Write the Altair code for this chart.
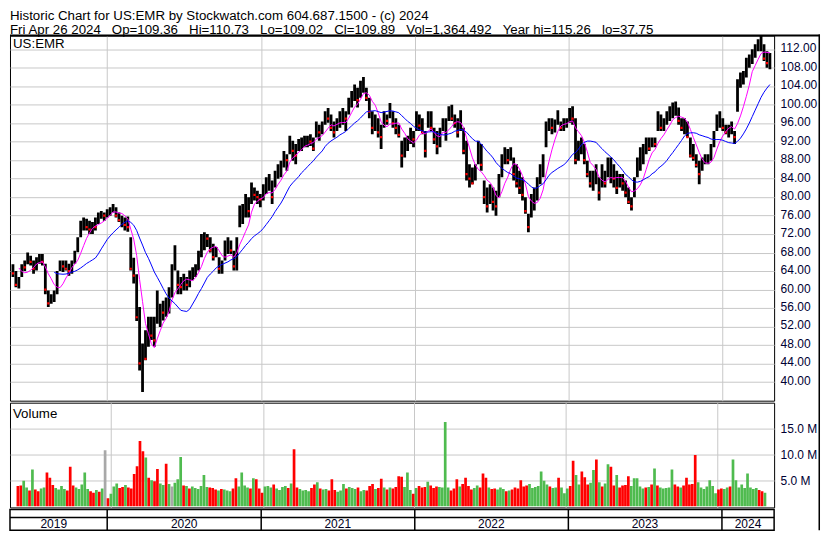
import altair as alt
import pandas as pd
import numpy as np

# ---------------- data (weekly bars) ----------------
FIRST_WEEK = "2019-05-01"  # Wednesday of the first weekly bar

HI = [71.5, 70.0, 68.4, 65.5, 64.0, 62.7, 65.5, 66.3, 68.0, 67.3,
      66.3, 67.0, 67.7, 67.7, 65.6, 59.8, 59.0, 59.8, 64.0, 66.3,
      66.3, 66.3, 65.6, 66.3, 68.4, 71.3, 74.9, 75.6, 75.3, 74.9,
      74.6, 75.6, 76.7, 77.0, 76.7, 77.4, 77.8, 78.5, 77.8, 76.7,
      76.0, 75.6, 75.8, 71.3, 66.9, 63.3, 56.2, 48.3, 51.2, 54.1,
      54.1, 54.1, 59.8, 56.9, 57.6, 58.3, 60.5, 65.5, 69.6, 64.1,
      62.7, 63.4, 62.7, 64.1, 64.8, 65.5, 68.4, 72.0, 72.4, 72.0,
      71.3, 69.9, 69.2, 67.0, 66.3, 70.6, 71.3, 70.6, 68.4, 71.3,
      78.2, 78.5, 80.7, 80.0, 83.2, 82.1, 81.4, 80.7, 82.8, 84.3,
      85.0, 83.6, 85.7, 87.1, 87.9, 90.0, 89.3, 93.3, 92.2, 91.5,
      92.6, 92.9, 93.3, 93.3, 93.6, 92.9, 96.4, 95.7, 96.4, 98.6,
      99.3, 97.9, 96.4, 97.1, 98.6, 99.3, 98.6, 101.5, 103.0, 104.4,
      103.7, 105.2, 106.0, 103.7, 101.5, 98.6, 97.9, 97.1, 95.7, 98.6,
      97.9, 100.4, 98.6, 97.1, 95.7, 92.2, 92.9, 93.3, 95.0, 94.3,
      98.6, 97.9, 97.1, 94.3, 98.6, 98.6, 95.0, 94.3, 95.0, 97.1,
      97.1, 99.7, 100.0, 97.9, 97.1, 98.8, 95.0, 92.2, 87.1, 86.4,
      87.1, 92.2, 91.5, 83.6, 82.1, 82.8, 82.1, 81.4, 85.0, 89.3,
      90.8, 90.4, 90.8, 88.6, 87.1, 85.7, 84.3, 80.0, 76.4, 80.7,
      82.1, 84.3, 87.1, 89.3, 96.4, 97.1, 97.1, 96.8, 98.8, 96.4,
      97.1, 97.1, 99.3, 99.7, 97.1, 92.2, 92.9, 91.5, 87.9, 85.7,
      85.7, 87.1, 84.3, 87.1, 85.7, 88.6, 88.6, 87.1, 85.7, 85.0,
      85.0, 83.6, 82.1, 80.0, 84.3, 88.6, 90.8, 91.5, 92.9, 92.9,
      92.9, 92.9, 98.6, 97.9, 97.1, 98.6, 99.7, 100.5, 100.7, 99.4,
      97.1, 97.1, 96.4, 92.9, 91.5, 89.3, 87.9, 88.6, 89.3, 89.3,
      91.5, 94.3, 97.9, 98.6, 97.1, 95.7, 95.7, 96.4, 94.3, 105.5,
      107.0, 107.3, 110.2, 110.9, 112.0, 113.1, 114.2, 115.2, 113.1, 111.6,
      111.2]

LO = [69.2, 66.0, 64.8, 62.7, 60.5, 60.2, 62.7, 64.0, 65.5, 65.2,
      63.4, 64.1, 65.6, 65.2, 59.0, 56.2, 56.9, 57.3, 59.0, 64.0,
      63.8, 64.1, 63.0, 63.4, 65.6, 68.1, 71.3, 72.8, 72.8, 72.0,
      72.0, 72.8, 74.2, 75.3, 74.9, 75.6, 76.0, 76.7, 75.6, 74.6,
      73.5, 72.8, 72.5, 64.1, 61.3, 53.2, 42.5, 37.8, 44.7, 47.6,
      49.1, 47.6, 52.6, 51.9, 53.3, 54.1, 54.8, 58.3, 64.1, 59.0,
      59.0, 59.8, 59.8, 60.5, 62.0, 62.7, 64.1, 67.0, 68.5, 69.2,
      68.0, 66.3, 67.0, 63.4, 63.4, 66.3, 67.7, 67.7, 64.1, 64.1,
      73.5, 74.2, 75.6, 75.6, 78.5, 79.3, 78.5, 77.8, 79.3, 80.7,
      81.4, 78.5, 82.1, 84.0, 84.3, 86.4, 85.7, 89.3, 87.9, 87.1,
      90.0, 90.0, 90.8, 90.8, 91.1, 90.0, 92.9, 92.2, 93.6, 95.7,
      96.1, 94.3, 92.9, 94.3, 95.0, 95.7, 94.3, 97.9, 99.4, 100.8,
      99.4, 101.5, 102.6, 100.8, 97.1, 93.6, 94.3, 92.9, 90.4, 95.0,
      95.7, 97.1, 95.0, 93.6, 92.9, 86.4, 88.6, 90.0, 91.5, 90.8,
      94.3, 94.3, 93.6, 88.6, 95.0, 94.3, 91.5, 89.3, 90.8, 94.3,
      92.2, 96.5, 96.5, 95.0, 92.9, 94.3, 89.3, 83.6, 82.1, 82.8,
      83.6, 87.1, 85.7, 78.5, 76.7, 78.5, 77.1, 76.0, 80.0, 84.3,
      87.1, 87.1, 87.9, 83.6, 82.1, 80.7, 79.3, 76.4, 72.4, 75.6,
      77.1, 79.3, 82.8, 84.3, 90.8, 94.3, 93.6, 94.0, 95.7, 94.3,
      94.3, 95.0, 96.1, 95.7, 87.1, 87.9, 89.3, 87.1, 84.3, 82.1,
      81.4, 82.8, 79.3, 82.1, 82.1, 84.3, 83.0, 82.1, 80.7, 82.1,
      81.4, 80.0, 78.5, 77.1, 80.0, 84.3, 85.7, 87.1, 89.3, 90.0,
      90.8, 90.8, 94.3, 94.3, 94.3, 95.7, 96.5, 97.1, 97.6, 95.7,
      94.3, 93.6, 92.9, 88.6, 87.9, 86.4, 82.8, 85.7, 87.1, 87.1,
      87.9, 90.8, 94.3, 95.0, 94.3, 93.6, 92.9, 93.6, 91.5, 98.5,
      103.7, 104.4, 105.9, 108.0, 108.8, 110.2, 111.6, 111.6, 109.5, 108.0,
      107.7]

CL = [69.5, 66.5, 66.0, 63.5, 61.0, 61.5, 65.0, 64.8, 66.8, 66.0,
      64.5, 66.0, 67.0, 66.0, 60.0, 57.0, 58.0, 58.5, 63.5, 65.5,
      65.0, 64.5, 64.0, 66.0, 68.0, 70.5, 74.0, 74.5, 73.5, 73.0,
      74.0, 73.5, 76.0, 76.5, 76.0, 77.0, 77.3, 78.0, 76.0, 75.0,
      75.5, 74.0, 73.5, 64.5, 63.0, 54.0, 44.0, 45.5, 45.0, 51.0,
      50.0, 49.0, 55.5, 56.0, 55.0, 57.0, 59.0, 64.0, 65.0, 61.0,
      60.5, 62.0, 61.0, 63.0, 64.0, 65.0, 67.0, 70.0, 71.5, 71.0,
      68.5, 67.0, 68.0, 64.5, 65.0, 69.0, 70.0, 68.5, 65.0, 70.0,
      76.0, 77.0, 79.0, 77.0, 81.5, 80.5, 80.0, 79.5, 81.0, 82.0,
      83.0, 80.0, 84.5, 86.0, 86.5, 89.0, 88.0, 91.5, 90.0, 89.0,
      91.0, 92.0, 92.5, 93.0, 92.0, 90.5, 95.5, 94.0, 95.0, 97.5,
      97.0, 95.0, 94.0, 96.0, 97.0, 98.0, 97.0, 100.5, 101.5, 103.0,
      101.0, 104.0, 104.5, 101.5, 98.5, 95.0, 96.0, 94.0, 93.0, 97.0,
      96.5, 98.5, 96.0, 95.0, 93.5, 89.0, 91.0, 91.5, 93.0, 92.5,
      97.0, 95.5, 94.0, 90.0, 97.0, 95.0, 92.5, 91.0, 93.0, 96.0,
      96.5, 98.5, 97.0, 96.0, 94.0, 95.0, 90.0, 85.0, 84.0, 83.0,
      85.0, 89.0, 87.0, 80.0, 78.0, 80.0, 79.0, 78.0, 84.0, 88.0,
      89.0, 88.0, 89.5, 85.0, 83.0, 82.0, 80.5, 77.0, 73.5, 79.0,
      80.0, 83.0, 86.0, 88.0, 94.0, 95.5, 95.0, 96.0, 97.0, 95.0,
      96.0, 96.5, 97.5, 97.0, 88.0, 90.0, 91.0, 88.0, 85.0, 83.0,
      84.0, 85.0, 81.0, 84.0, 83.0, 86.0, 86.5, 84.0, 82.0, 84.0,
      83.0, 81.0, 79.0, 78.0, 83.0, 87.0, 88.0, 89.0, 91.0, 90.5,
      92.0, 91.5, 96.0, 95.0, 96.0, 97.0, 98.0, 98.5, 99.0, 96.5,
      95.0, 95.5, 93.0, 89.0, 88.5, 87.0, 85.0, 87.0, 88.0, 88.5,
      90.0, 93.0, 96.0, 97.0, 95.0, 94.0, 94.5, 95.0, 93.0, 104.0,
      105.0, 106.0, 108.0, 109.5, 110.5, 112.0, 113.0, 113.5, 110.0, 109.0,
      109.89]

VOL_M = [5.7, 3.8, 3.2, 3.9, 4.0, 4.9, 3.6, 3.0, 7.1, 3.2,
         2.9, 3.4, 3.6, 6.5, 5.5, 4.1, 3.5, 3.2, 3.9, 3.3,
         3.0, 7.6, 4.0, 3.6, 3.3, 4.2, 6.5, 3.3, 2.9, 2.6,
         3.1, 2.8, 3.4, 10.8, 1.5, 2.4, 3.8, 4.4, 3.5, 3.7,
         4.1, 3.6, 3.4, 6.2, 7.7, 12.6, 10.6, 9.4, 5.5, 5.0,
         4.8, 7.2, 4.4, 4.1, 8.2, 4.3, 3.8, 4.5, 5.2, 9.5,
         4.0, 3.9, 3.4, 3.8, 3.5, 3.3, 3.9, 6.0, 3.7, 3.6,
         3.5, 3.2, 3.0, 3.3, 3.2, 3.0, 2.9, 3.4, 5.4, 3.8,
         6.5, 4.0, 3.6, 3.4, 5.4, 5.2, 3.4, 2.6, 3.8, 3.9,
         3.6, 4.2, 3.4, 3.1, 3.7, 3.9, 3.5, 4.4, 11.0, 3.6,
         3.3, 3.0, 3.1, 2.9, 3.5, 4.2, 4.6, 3.4, 3.2, 3.3,
         3.0, 5.2, 3.1, 2.8, 3.0, 4.3, 3.4, 3.7, 3.5, 3.3,
         3.6, 2.9, 3.1, 3.0, 3.9, 4.3, 3.3, 3.5, 5.3, 3.6,
         3.2, 3.6, 3.4, 3.7, 5.8, 5.7, 3.7, 6.5, 3.1, 2.4,
         3.5, 3.9, 3.6, 3.7, 4.7, 4.0, 3.5, 3.8, 3.7, 3.6,
         16.3, 3.6, 3.0, 3.4, 5.2, 3.8, 4.3, 5.5, 3.9, 3.2,
         3.5, 4.0, 3.6, 6.3, 5.5, 3.6, 3.3, 3.4, 3.2, 3.6,
         3.3, 2.9, 3.0, 3.2, 3.6, 3.4, 5.0, 3.8, 4.0, 4.3,
         3.5, 3.7, 3.9, 6.7, 4.9, 4.2, 3.8, 3.5, 3.6, 5.5,
         3.6, 2.5, 3.4, 3.9, 8.8, 6.0, 4.2, 6.7, 5.6, 4.2,
         4.5, 7.0, 9.0, 4.6, 3.8, 4.4, 8.1, 7.6, 4.0, 6.0,
         3.6, 4.0, 4.1, 5.8, 3.9, 5.4, 5.4, 3.8, 3.4, 3.6,
         3.7, 4.2, 7.3, 4.0, 3.6, 3.4, 3.5, 3.6, 7.1, 4.2,
         3.8, 3.6, 4.0, 5.5, 4.2, 4.3, 9.9, 4.6, 3.6, 3.3,
         3.8, 5.0, 3.9, 2.5, 3.2, 3.4, 3.3, 3.6, 3.8, 9.0,
         5.0, 3.6, 4.2, 3.5, 6.3, 3.6, 3.3, 3.5, 3.1, 2.9,
         2.6]

GREY_WEEKS = [33, 56]     # unchanged-close volume bars (grey)
GREEN_WEEKS = [59]        # volume spikes drawn green in the reference

YEARS = ["2019", "2020", "2021", "2022", "2023", "2024"]
YEAR_STARTS = ["2020-01-01", "2021-01-01", "2022-01-01", "2023-01-01", "2024-01-01"]
PRICE_TICKS = [40, 44, 48, 52, 56, 60, 64, 68, 72, 76, 80, 84, 88, 92, 96, 100, 104, 108, 112]
VOL_TICKS = [5, 10, 15]

HEADER_1 = "Historic Chart for US:EMR by Stockwatch.com 604.687.1500 - (c) 2024"
HEADER_2_FIELDS = ["Fri Apr 26 2024", "Op=109.36", "Hi=110.73", "Lo=109.02",
                   "Cl=109.89", "Vol=1,364,492", "Year hi=115.26", "lo=37.75"]
SYMBOL = "US:EMR"
VOL_TITLE = "Volume"

# ---------------- layout ----------------
FONT = "Liberation Sans"
W = 766
PRICE_H = 366
VOL_H = 105
STRIP_H = 21
GAP = 2
RIGHT_EDGE = 810.5
GRID = "#c8c8c8"
LABEL_COLOR = "#000033"
YEAR_LABEL_AT = ["2019-08-27", "2020-07-02", "2021-07-02", "2022-07-02", "2023-07-02", "2024-03-03"]

dates = pd.date_range(FIRST_WEEK, periods=len(CL), freq="7D").strftime("%Y-%m-%d")
df = pd.DataFrame({"date": dates, "hi": HI, "lo": LO, "cl": CL, "vol": VOL_M})
df["idx"] = np.arange(len(df))
prev = df["cl"].shift(1)
df["dir"] = np.where(df["cl"] > prev, "up", np.where(df["cl"] < prev, "down", "flat"))
df.loc[0, "dir"] = "down"
df.loc[df["idx"].isin(GREY_WEEKS), "dir"] = "flat"
df.loc[df["idx"].isin(GREEN_WEEKS), "dir"] = "up"
df["down"] = df["cl"] < prev

x_scale = alt.Scale(type="utc", domain=[alt.DateTime(year=2019, month=5, date=15, utc=True),
                                        alt.DateTime(year=2024, month=5, date=4, utc=True)])
year_dt = [alt.DateTime(year=int(s[:4]), month=1, date=1, utc=True) for s in YEAR_STARTS]
x_axis = alt.Axis(values=year_dt, grid=True, gridColor=GRID, gridOpacity=1, labels=False,
                  ticks=False, domain=False, title=None)


def X(field="date"):
    return alt.X(f"{field}:T", scale=x_scale, axis=x_axis)


y_scale = alt.Scale(domain=[35.94, 114.98], nice=False, zero=False)
y_axis = alt.Axis(orient="right", values=PRICE_TICKS, format=".2f", grid=True, gridColor=GRID,
                  gridOpacity=1, ticks=False, tickSize=0, domain=False, labelPadding=6,
                  labelFontSize=12, labelFont=FONT, labelColor=LABEL_COLOR, title=None,
                  labelOffset=-1.5, labelOverlap=False)


def Y(field):
    return alt.Y(f"{field}:Q", scale=y_scale, axis=y_axis)


base = alt.Chart(df)
vis = base.transform_filter("datum.idx >= 3")
dummy = alt.Chart(pd.DataFrame({"k": [0]}))

bars = vis.mark_rule(color="#000000", strokeWidth=2.8, clip=True).encode(x=X(), y=Y("hi"), y2="lo:Q")
reds = vis.transform_filter("datum.down").mark_square(size=5, color="#ff0000", opacity=1, clip=True).encode(
    x=X(), y=Y("cl"))
ma_fast = base.transform_window(maf="mean(cl)", rn="row_number()", frame=[-5, 0],
                                sort=[alt.SortField("idx")]).transform_filter("datum.rn >= 6").mark_line(
    color="#ff00ff", strokeWidth=1, clip=True).encode(x=X(), y=Y("maf"))
ma_slow = base.transform_window(mas="mean(cl)", rn="row_number()", frame=[-17, 0],
                                sort=[alt.SortField("idx")]).transform_filter("datum.rn >= 18").mark_line(
    color="#0000ff", strokeWidth=1, clip=True).encode(x=X(), y=Y("mas"))

txt = dict(align="left", baseline="alphabetic", font=FONT, color="#000000")
hdr1 = dummy.mark_text(fontSize=13.33, **txt).encode(x=alt.value(0), y=alt.value(-15.5), text=alt.value(HEADER_1))
hdr2 = dummy.mark_text(fontSize=13.33, **txt).encode(
    x=alt.value(0), y=alt.value(-1.5), text=alt.value("\u00a0\u00a0\u00a0".join(HEADER_2_FIELDS)))
sym = dummy.mark_text(fontSize=13.33, **txt).encode(x=alt.value(3), y=alt.value(12.5), text=alt.value(SYMBOL))
top_line = dummy.mark_rule(color="#000000", strokeWidth=2).encode(
    x=alt.value(0), x2=alt.value(RIGHT_EDGE + 1.5), y=alt.value(0))
right_border = dummy.mark_rect(color="#000000", opacity=1).encode(
    x=alt.value(RIGHT_EDGE), x2=alt.value(RIGHT_EDGE + 1.5),
    y=alt.value(-1), y2=alt.value(PRICE_H + GAP + VOL_H + GAP + STRIP_H))

price = alt.layer(bars, reds, ma_fast, ma_slow, sym, hdr1, hdr2, top_line, right_border).properties(
    width=W, height=PRICE_H, view=alt.ViewBackground(stroke="#000000", strokeWidth=1))

v_scale = alt.Scale(domain=[-0.25, 20.02], nice=False, zero=False)
v_axis = alt.Axis(orient="right", values=VOL_TICKS, labelExpr="format(datum.value, '.1f') + ' M'",
                  grid=True, gridColor=GRID, gridOpacity=1, ticks=False, tickSize=0, domain=False,
                  labelPadding=6, labelFontSize=12, labelFont=FONT, labelColor=LABEL_COLOR, title=None)
vbars = vis.mark_bar(width=2.7, clip=True).encode(
    x=X(), y=alt.Y("vol:Q", scale=v_scale, axis=v_axis), y2=alt.value(VOL_H),
    color=alt.Color("dir:N", scale=alt.Scale(domain=["up", "down", "flat"],
                                             range=["#4fbb4f", "#ff0000", "#a8a8a8"]), legend=None))
vtitle = dummy.mark_text(fontSize=13.33, **txt).encode(x=alt.value(3), y=alt.value(15.5), text=alt.value(VOL_TITLE))
volume = alt.layer(vbars, vtitle).properties(
    width=W, height=VOL_H, view=alt.ViewBackground(stroke="#000000", strokeWidth=1))

seps = alt.Chart(pd.DataFrame({"d": YEAR_STARTS})).mark_rule(color="#000000", strokeWidth=1.5).encode(
    x=alt.X("d:T", scale=x_scale, axis=None), y=alt.value(0), y2=alt.value(STRIP_H))
mid_line = dummy.mark_rule(color="#000000", strokeWidth=1.5).encode(x=alt.value(0), x2=alt.value(W), y=alt.value(8))
ylabels = alt.Chart(pd.DataFrame({"year": YEARS, "d": YEAR_LABEL_AT})).mark_text(
    align="center", baseline="alphabetic", fontSize=12, font=FONT, color="#000022").encode(
    x=alt.X("d:T", scale=x_scale, axis=None), y=alt.value(18.5), text="year:N")
strip = alt.layer(seps, mid_line, ylabels).properties(
    width=W, height=STRIP_H, view=alt.ViewBackground(stroke="#000000", strokeWidth=1.5))

chart = alt.vconcat(price, volume, strip, spacing=GAP, bounds="flush").properties(
    padding=0, background="#ffffff").configure(font=FONT)

chart.save("out.html", embed_options={"renderer": "svg", "actions": False})
